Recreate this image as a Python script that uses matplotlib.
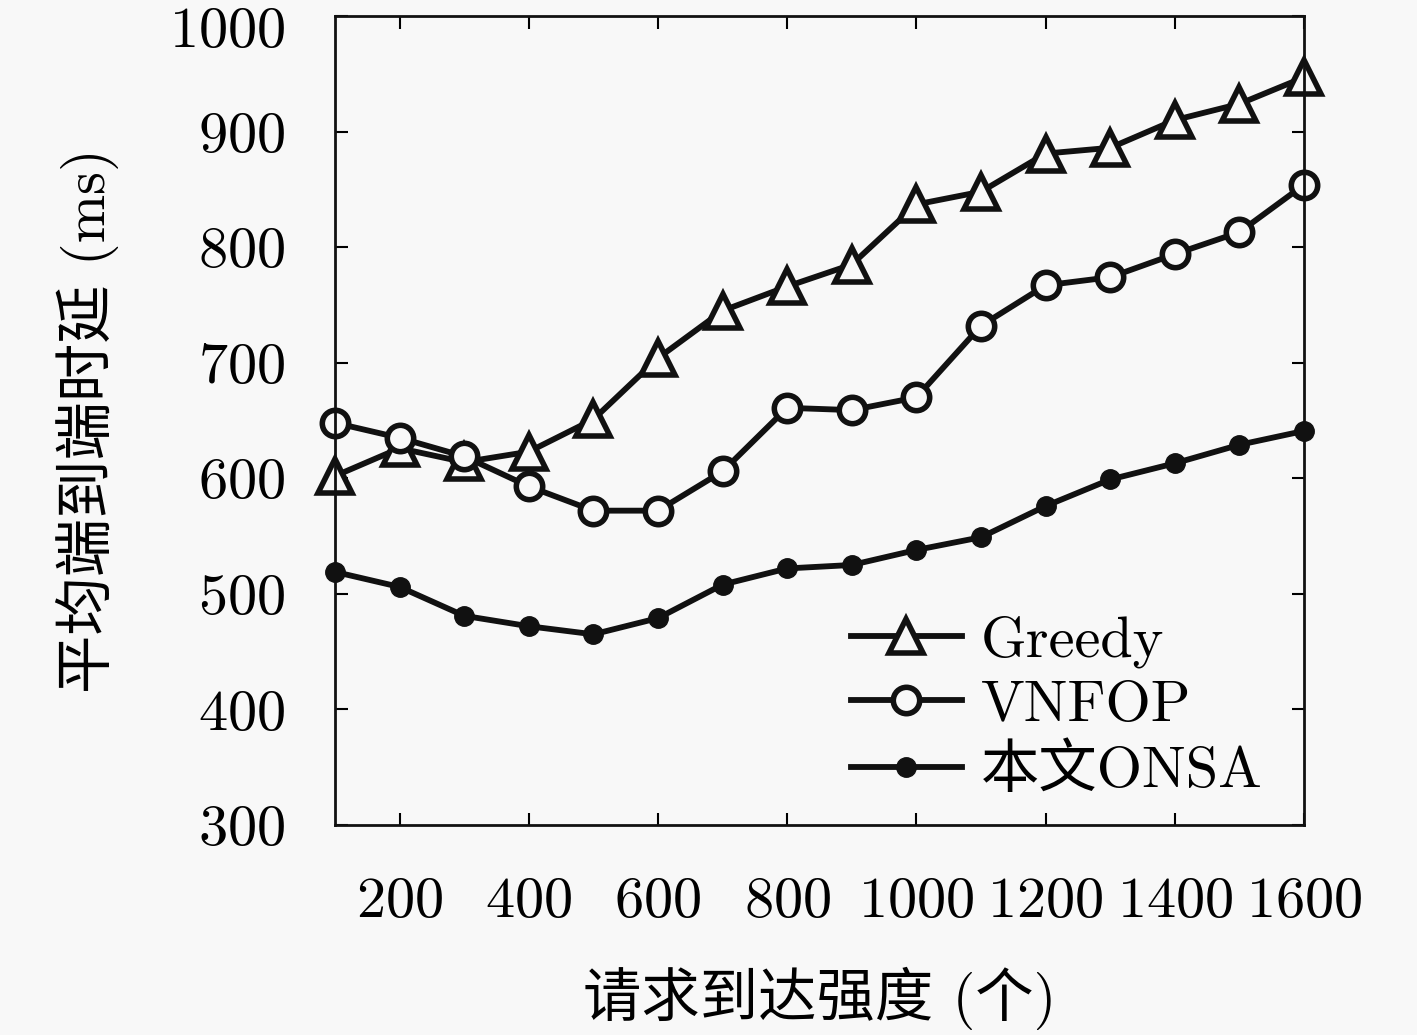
import matplotlib
matplotlib.use("Agg")
import matplotlib.pyplot as plt
from matplotlib.transforms import ScaledTranslation

# 请求到达强度 (个)
x_vals = [100, 200, 300, 400, 500, 600, 700, 800, 900, 1000, 1100, 1200, 1300, 1400, 1500, 1600]
greedy = [602, 626, 614, 623, 651, 704, 745, 766, 785, 837, 848, 881, 886, 910, 924, 947]
vnfop = [648, 635, 619, 593, 572, 572, 606, 661, 659, 670, 732, 767, 774, 794, 813, 854]
onsa = [519, 506, 481, 472, 465, 479, 508, 522, 525, 538, 549, 576, 599, 613, 629, 641]
labels = ['Greedy', 'VNFOP', '本文ONSA']
x_ticks = [200, 400, 600, 800, 1000, 1200, 1400, 1600]
y_ticks = [300, 400, 500, 600, 700, 800, 900, 1000]

plt.rcParams['font.family'] = ['cmr10', 'Noto Sans CJK SC']
plt.rcParams['axes.formatter.use_mathtext'] = True
bg = '#f8f8f8'
ink = '#111111'

fig = plt.figure(figsize=(14.17, 10.35), dpi=100, facecolor=bg)
ax = fig.add_axes([0.2364, 0.2029, 0.6839, 0.7816], facecolor=bg)

ax.plot(x_vals, greedy, color=ink, lw=4.2, marker='^', ms=24, mew=4,
        mfc=bg, mec=ink, label=labels[0], clip_on=False)
ax.plot(x_vals, vnfop, color=ink, lw=4.2, marker='o', ms=19, mew=4,
        mfc=bg, mec=ink, label=labels[1], clip_on=False)
ax.plot(x_vals, onsa, color=ink, lw=4.2, marker='o', ms=14, mew=1,
        mfc=ink, mec=ink, label=labels[2], clip_on=False)

ax.set_xlim(100, 1600)
ax.set_ylim(300, 1000)
ax.set_xticks(x_ticks)
ax.set_yticks(y_ticks)
ax.tick_params(direction='in', length=9, width=1.5, top=True, right=True,
               labelsize=42)
ax.tick_params(axis='x', pad=37)
ax.tick_params(axis='y', pad=36)
for s in ax.spines.values():
    s.set_linewidth(2)
    s.set_color(ink)

# 顶端的1000往下挪一点, 不然被图边裁掉
top_lab = ax.yaxis.get_major_ticks()[-1].label1
top_lab.set_transform(top_lab.get_transform()
                      + ScaledTranslation(0, -0.11, fig.dpi_scale_trans))

ax.set_xlabel('请求到达强度 (个)', fontsize=42, labelpad=28)
ax.set_ylabel('平均端到端时延 (ms)', fontsize=42, labelpad=36)

leg = ax.legend(loc='center left', bbox_to_anchor=(851 / 1417, 1 - 707 / 1035),
                bbox_transform=fig.transFigure, frameon=False, fontsize=42,
                handlelength=1.9, handletextpad=0.32, labelspacing=0.2,
                borderpad=0, borderaxespad=0)

fig.savefig('out.png', dpi=100, facecolor=bg)
